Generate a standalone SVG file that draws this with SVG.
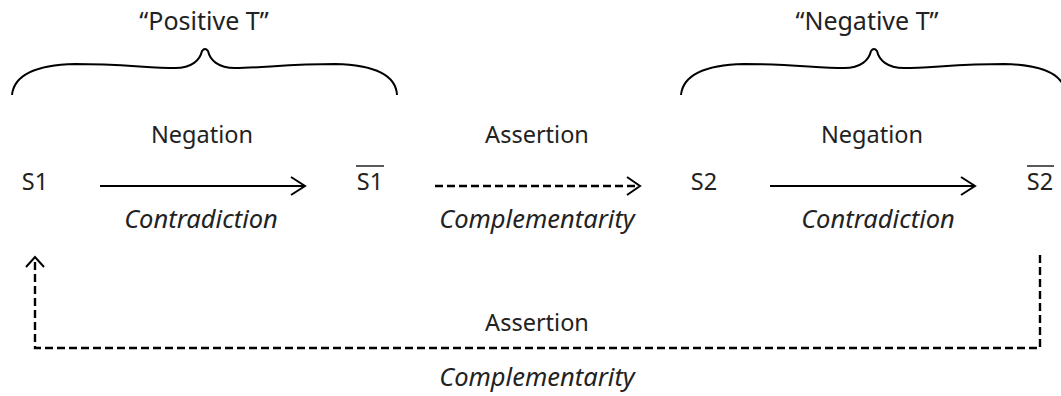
<svg xmlns="http://www.w3.org/2000/svg" width="1061" height="396" viewBox="0 0 1061 396">
<style>
text{font-family:"Noto Sans","Open Sans",sans-serif;font-size:23.5px;fill:#222;text-anchor:middle}
.it{font-style:italic;font-size:25.5px}
.q{font-size:25px}
.ln{fill:none;stroke:#000;stroke-width:2}
.ds{fill:none;stroke:#000;stroke-width:2.4;stroke-dasharray:8 4}
.hd{fill:none;stroke:#000;stroke-width:2;stroke-linejoin:miter}
.ov{stroke:#222;stroke-width:1.5}
</style>
<defs>
<path id="brace" class="ln" d="M12,95 C14,75 35,65 75,64 C120,64 150,68 175,68 C192,68 200,60 202,51 Q205,47 208,51 C210,60 218,68 235,68 C260,68 290,64 335,64 C375,65 396,75 397,95"/>
</defs>
<g id="positive-t">
<use href="#brace"/>
<text class="q" x="204" y="30">“Positive T”</text>
</g>
<g id="negative-t">
<use href="#brace" transform="translate(669,0)"/>
<text class="q" x="867" y="30">“Negative T”</text>
</g>
<g id="s1"><text x="35" y="190">S1</text></g>
<g id="s1bar"><text x="370" y="190">S1</text><line class="ov" x1="356" y1="166" x2="384" y2="166"/></g>
<g id="s2"><text x="704" y="190">S2</text></g>
<g id="s2bar"><text x="1040" y="190">S2</text><line class="ov" x1="1027" y1="166" x2="1054" y2="166"/></g>
<g id="connectors">
<line class="ln" x1="100" y1="186" x2="304" y2="186"/>
<polyline class="hd" points="291,177 305,186 291,195"/>
<line class="ds" x1="435" y1="186" x2="638" y2="186"/>
<polyline class="hd" points="627,177 640,186 627,195"/>
<line class="ln" x1="770" y1="186" x2="974" y2="186"/>
<polyline class="hd" points="961,177 975,186 961,195"/>
<polyline class="ds" points="1040,255 1040,348 35,348 35,259"/>
<polyline class="hd" points="26,267 35,257 44,267"/>
<text x="202" y="143">Negation</text>
<text class="it" x="201" y="228">Contradiction</text>
<text x="537" y="143">Assertion</text>
<text class="it" x="537" y="228">Complementarity</text>
<text x="872" y="143">Negation</text>
<text class="it" x="878" y="228">Contradiction</text>
<text x="537" y="331">Assertion</text>
<text class="it" x="537" y="386">Complementarity</text>
</g>
</svg>
